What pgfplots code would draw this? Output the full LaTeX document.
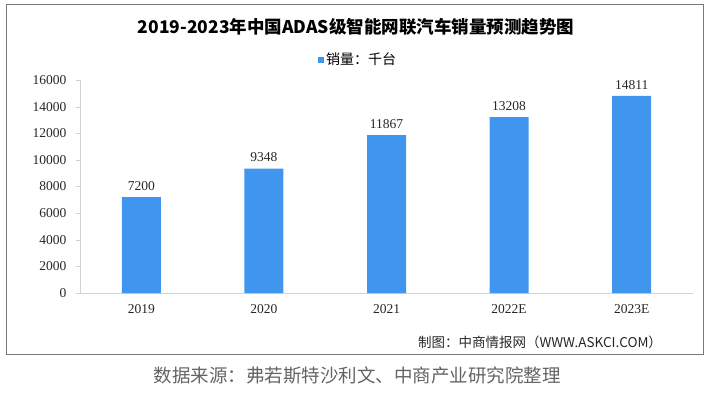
\documentclass[border=0pt]{standalone}
\usepackage{fontspec}
\setmainfont{Liberation Serif}
\newfontfamily\cjk{Noto Sans CJK SC}
\usepackage{pgfplots}
\pgfplotsset{compat=1.18}
\definecolor{barblue}{RGB}{64,150,238}
\definecolor{axgray}{RGB}{210,210,210}
\definecolor{framegray}{RGB}{120,120,120}
\definecolor{srcgray}{RGB}{100,100,100}
\begin{document}
\begin{tikzpicture}
\useasboundingbox (0pt,0pt) rectangle (710pt,392pt);
\draw[framegray, line width=0.8pt] (6pt,38pt) rectangle (703pt,388pt);
\node[font=\cjk\bfseries\fontsize{17.5}{18}\selectfont] at (356pt,365pt) {2019-2023年中国ADAS级智能网联汽车销量预测趋势图};
\begin{axis}[at={(80pt,99pt)}, anchor=south west, scale only axis,
  width=613pt, height=213pt,
  xmin=-0.5, xmax=4.5, ymin=0, ymax=16000,
  ytick={0,2000,...,16000},
  xtick={0,...,4}, xticklabels={2019,2020,2021,2022E,2023E},
  extra x ticks={-0.5,0.5,1.5,2.5,3.5,4.5}, extra x tick labels={},
  extra x tick style={major tick length=4pt, tick style={axgray}},
  x tick style={draw=none},
  y tick style={axgray},
  major tick length=4pt, tick align=outside,
  axis x line*=bottom, axis y line*=left,
  axis line style={axgray, line width=0.6pt},
  ymajorgrids=false,
  scaled y ticks=false,
  /pgf/number format/assume math mode=true,
  yticklabel={\pgfmathprintnumber[fixed,1000 sep={}]{\tick}},
  tick label style={font=\fontsize{13.5}{13.5}\selectfont, text=black!85},
  xticklabel style={yshift=-4pt},
  yticklabel style={xshift=-6pt},
  nodes near coords,
  nodes near coords style={font=\fontsize{13.5}{13.5}\selectfont, text=black!85, yshift=3pt, /pgf/number format/.cd, fixed, 1000 sep={}},
  legend style={at={(0.4535,1.095)}, anchor=center, draw=none, fill=none,
    font=\cjk\fontsize{14}{14}\selectfont, inner sep=0pt},
  legend image code/.code={\fill[barblue] (0pt,-3pt) rectangle (6pt,3pt);},
  clip=false,
]
\addplot[ybar, bar width=39pt, fill=barblue, draw=none] coordinates {
  (0,7200) (1,9348) (2,11867) (3,13208) (4,14811)
};
\addlegendentry{销量：千台}
\end{axis}
\node[font=\cjk\fontsize{13.5}{14}\selectfont, text=black!85] at (540pt,50pt) {制图：中商情报网（WWW.ASKCI.COM）};
\node[font=\cjk\fontsize{18.5}{19}\selectfont, text=srcgray] at (357pt,16pt) {数据来源：弗若斯特沙利文、中商产业研究院整理};
\end{tikzpicture}
\end{document}
